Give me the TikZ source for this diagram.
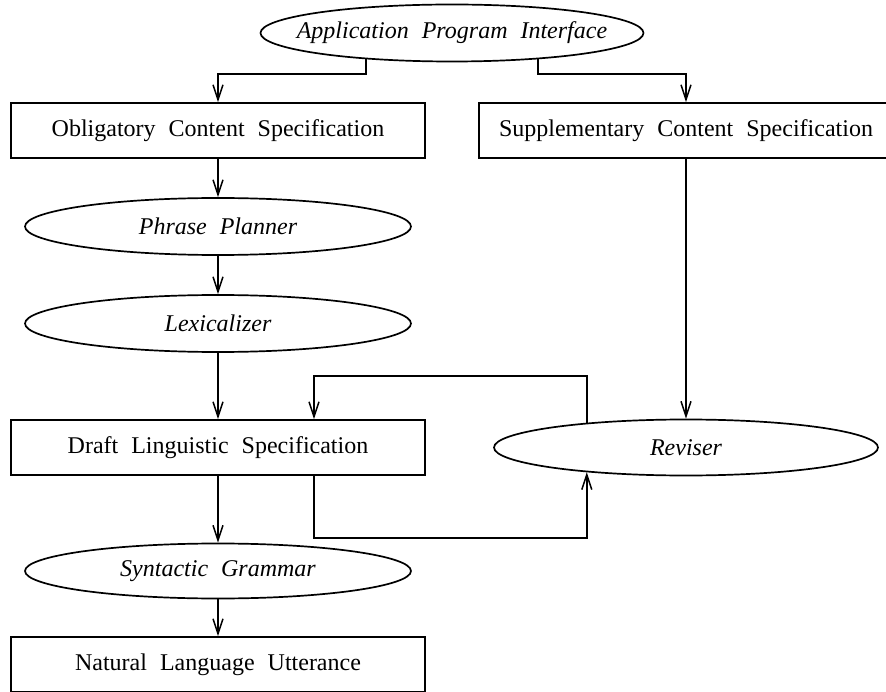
\documentclass[tikz,border=0pt]{standalone}
\usepackage{fontspec}
\setmainfont{Liberation Serif}
\usetikzlibrary{shapes.geometric,arrows.meta,calc}

\tikzset{
  box/.style={draw, rectangle, line width=1.7pt, minimum width=414pt, minimum height=55pt, inner sep=0pt},
  proc/.style={draw, ellipse, line width=1.7pt, minimum width=386pt, minimum height=57pt, inner sep=0pt},
  arr/.style={-{Straight Barb[length=15pt,width=10pt]}, line width=1.5pt}
}
\newcommand{\boxlbl}[1]{\fontsize{24}{28}\selectfont\spaceskip=13pt\relax #1}
\newcommand{\proclbl}[1]{\makebox[0pt]{\fontsize{24}{28}\selectfont\itshape\spaceskip=13pt\relax #1}}

\begin{document}
\begin{tikzpicture}[x=1pt,y=-1pt]
\useasboundingbox (0,0) rectangle (886,692);

	% modules and data
	\node[proc, minimum width=383pt] (api) at (452,33) {\proclbl{Application Program Interface}};
	\node[box] (oblig) at (218,130.5) {\boxlbl{Obligatory Content Specification}};
	\node[box] (supp) at (686,130.5) {\boxlbl{Supplementary Content Specification}};
	\node[proc] (phrase) at (218,226.5) {\proclbl{Phrase Planner}};
	\node[proc] (lex) at (218,323.5) {\proclbl{Lexicalizer}};
	\node[box] (draft) at (218,447.5) {\boxlbl{Draft Linguistic Specification}};
	\node[proc, minimum width=384pt, minimum height=56pt] (rev) at (686,447.5) {\proclbl{Reviser}};
	\node[proc, minimum height=55pt] (syn) at (218,571) {\proclbl{Syntactic Grammar}};
	\node[box] (nlu) at (218,664.5) {\boxlbl{Natural Language Utterance}};

	% API split
	\draw[arr] (api.197) |- ($(oblig.north)+(0,-28)$) -- (oblig.north);
	\draw[arr] (api.343) |- ($(supp.north)+(0,-28)$) -- (supp.north);

	% main pipeline
	\draw[arr] (oblig.south) -- (phrase.north);
	\draw[arr] (phrase.south) -- (lex.north);
	\draw[arr] (lex.south) -- (draft.north);
	\draw[arr] (draft.south) -- (syn.north);
	\draw[arr] (syn.south) -- (nlu.north);

	% revision loop
	\draw[arr] (supp.south) -- (rev.north);
	\draw[arr] (rev.166) |- ($(draft.north)+(96,-43)$) -- ($(draft.north)+(96,0)$);
	\draw[arr] ($(draft.south)+(96,0)$) -- ++(0,62) -| (rev.194);
\end{tikzpicture}
\end{document}
